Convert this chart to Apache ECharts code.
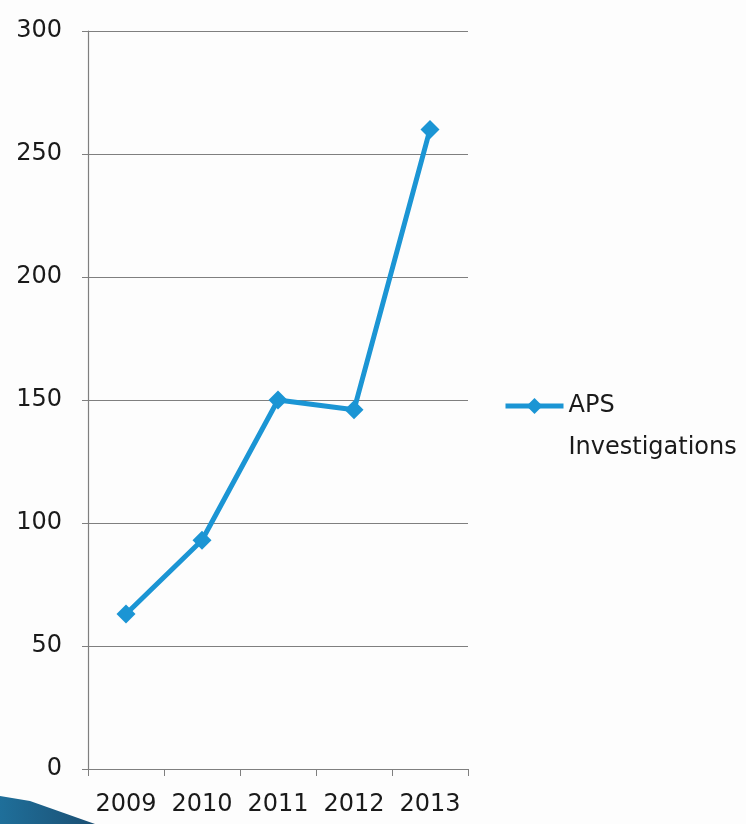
<!DOCTYPE html>
<html>
<head>
<meta charset="utf-8">
<style>
  html, body { margin: 0; padding: 0; background: #fdfdfd; }
  #chart { width: 746px; height: 824px; }
</style>
<script src="https://cdn.jsdelivr.net/npm/echarts@6/dist/echarts.min.js"></script>
</head>
<body>
<div id="chart"></div>
<script>
// Yearly counts of APS investigations
const years = ['2009', '2010', '2011', '2012', '2013'];
const apsInvestigations = [63, 93, 150, 146, 260];
const seriesName = 'APS Investigations';

const lineBlue = '#1b95d4';
const axisGray = '#7f7f7f';
const labelFont = 'DejaVu Sans';

const chart = echarts.init(document.getElementById('chart'));

chart.setOption({
  backgroundColor: '#fdfdfd',
  animation: false,
  grid: { left: 88, right: 278, top: 31, bottom: 55, containLabel: false },
  legend: {
    data: [seriesName],
    left: 498,
    top: 338,
    itemWidth: 58,
    itemHeight: 20,
    itemGap: 8,
    // blank first line keeps the marker level with "APS"
    formatter: () => ' \nAPS\nInvestigations',
    lineStyle: { width: 5 },
    textStyle: {
      fontFamily: labelFont,
      fontSize: 24,
      color: '#1a1a1a',
      lineHeight: 42
    }
  },
  xAxis: {
    type: 'category',
    data: years,
    boundaryGap: true,
    axisLine: { lineStyle: { color: axisGray, width: 1.2 } },
    axisTick: { show: true, length: 7, lineStyle: { color: axisGray } },
    axisLabel: {
      interval: 0,
      hideOverlap: false,
      fontFamily: labelFont,
      fontSize: 24,
      color: '#1a1a1a',
      margin: 24
    }
  },
  yAxis: {
    type: 'value',
    min: 0,
    max: 300,
    interval: 50,
    axisLine: { show: true, lineStyle: { color: axisGray, width: 1.2 } },
    axisTick: { show: true, length: 6, lineStyle: { color: axisGray } },
    splitLine: { lineStyle: { color: axisGray, width: 1.2 } },
    axisLabel: {
      fontFamily: labelFont,
      fontSize: 24,
      color: '#1a1a1a',
      margin: 26
    }
  },
  series: [{
    name: seriesName,
    type: 'line',
    data: apsInvestigations,
    symbol: 'diamond',
    symbolSize: 19,
    lineStyle: { color: lineBlue, width: 5 },
    itemStyle: { color: lineBlue }
  }],
  graphic: [{
    type: 'polygon',
    silent: true,
    z: -1,
    shape: { points: [[0, 796], [30, 801], [95, 824], [0, 824]] },
    style: {
      fill: new echarts.graphic.LinearGradient(0, 0, 1, 0, [
        { offset: 0, color: '#1f6f9a' },
        { offset: 1, color: '#1b4f73' }
      ])
    }
  }]
});
</script>
</body>
</html>
